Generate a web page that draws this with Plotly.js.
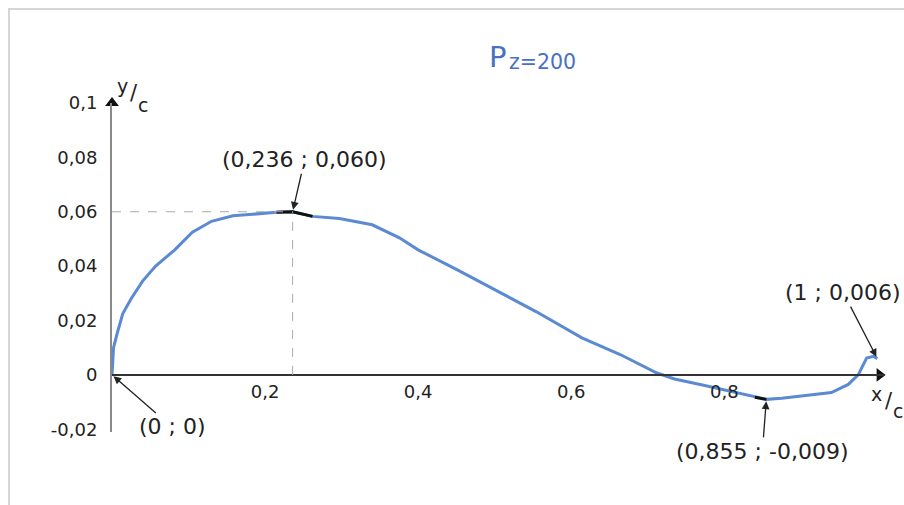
<!DOCTYPE html>
<html>
<head>
<meta charset="utf-8">
<script src="https://cdn.plot.ly/plotly-3.0.1.min.js"></script>
<style>
  html, body { margin: 0; padding: 0; background: #fff; }
  #wrap { position: relative; width: 904px; height: 505px; overflow: hidden; }
  #chart { position: absolute; left: 0; top: 0; width: 904px; height: 505px; }
  #frame { position: absolute; left: 8px; top: 8px; width: 904px; height: 505px;
           border-top: 2px solid #d6d6d6; border-left: 2px solid #d6d6d6; pointer-events: none; }
</style>
</head>
<body>
<div id="wrap">
  <div id="chart"></div>
  <div id="frame"></div>
</div>
<script>
// Mean line profile, y/c against x/c
const xc = [0, 0.002, 0.007, 0.014, 0.025, 0.040, 0.057, 0.082, 0.105, 0.130, 0.158, 0.189, 0.215, 0.236,
            0.262, 0.297, 0.340, 0.375, 0.400, 0.450, 0.502, 0.554, 0.614, 0.664, 0.712, 0.735, 0.770,
            0.815, 0.840, 0.855, 0.875, 0.906, 0.940, 0.962, 0.975, 0.986, 0.995, 1.0];
const yc = [0, 0.010, 0.0155, 0.0225, 0.028, 0.0345, 0.040, 0.046, 0.0525, 0.0565, 0.0585, 0.0593, 0.0598, 0.060,
            0.0583, 0.0575, 0.0552, 0.0505, 0.046, 0.0388, 0.0312, 0.0233, 0.0136, 0.0075, 0.0007, -0.0015, -0.0036,
            -0.0065, -0.0082, -0.009, -0.0086, -0.0075, -0.0065, -0.0035, 0.0, 0.0062, 0.0068, 0.006];

// Labelled points
const markX = [0, 0.236, 0.855, 1];
const markY = [0, 0.060, -0.009, 0.006];
const markText = ['(0 ; 0)', '(0,236 ; 0,060)', '(0,855 ; -0,009)', '(1 ; 0,006)'];
const markOffX = [60, 12, -4, -34];
const markOffY = [52, -52, 52, -66];

// Axis ticks
const xTickVals = [0.2, 0.4, 0.6, 0.8];
const xTickText = ['0,2', '0,4', '0,6', '0,8'];
const yTickVals = [-0.02, 0, 0.02, 0.04, 0.06, 0.08, 0.1];
const yTickText = ['-0,02', '0', '0,02', '0,04', '0,06', '0,08', '0,1'];

// heading: a large P followed by a lowered index
const titleParts = ['P', 'z=200'];
// axis names written as a raised letter, a slash and a lowered letter
const yNameParts = ['y', '/', 'c'];
const xNameParts = ['x', '/', 'c'];

const xRange = [0, 1.01];
const yRange = [-0.021, 0.1];
const FONT = 'DejaVu Sans, Arial, sans-serif';

// highlighted short pieces of the curve around the peak and the trough
function piece(cx, half) {
  const px = [], py = [];
  xc.forEach((v, i) => { if (Math.abs(v - cx) <= half) { px.push(v); py.push(yc[i]); } });
  return {x: px, y: py};
}
const peakPiece = piece(markX[1], 0.03);
const troughPiece = piece(markX[2], 0.016);

const traces = [
  {x: xc, y: yc, type: 'scatter', mode: 'lines', line: {color: '#5b8ad2', width: 3}, hoverinfo: 'none', cliponaxis: false},
  {x: peakPiece.x, y: peakPiece.y, type: 'scatter', mode: 'lines', line: {color: '#111', width: 3}, hoverinfo: 'none'},
  {x: troughPiece.x, y: troughPiece.y, type: 'scatter', mode: 'lines', line: {color: '#111', width: 3}, hoverinfo: 'none'},
  // arrowheads at the ends of both axes
  {x: [0, xRange[1] - 0.007], y: [yRange[1], 0], type: 'scatter', mode: 'markers', cliponaxis: false,
   marker: {symbol: ['triangle-up', 'triangle-right'], size: 12, color: '#111'}, hoverinfo: 'none'}
];

const annotations = [];
markX.forEach((mx, i) => {
  annotations.push({
    x: mx, y: markY[i], xref: 'x', yref: 'y', text: markText[i],
    showarrow: true, ax: markOffX[i], ay: markOffY[i], arrowhead: 2, arrowsize: 1.2,
    arrowwidth: 1.3, arrowcolor: '#222', standoff: 2,
    font: {family: FONT, size: 22, color: '#222'}
  });
});

// pieces of text placed one after another in paper coordinates: [x, y, anchor, size]
function addPieces(parts, pos, color) {
  parts.forEach((t, i) => annotations.push({
    x: pos[i][0], y: pos[i][1], xref: 'paper', yref: 'paper', xanchor: pos[i][2], yanchor: 'middle',
    text: t, showarrow: false, borderpad: 0, font: {family: FONT, size: pos[i][3], color: color}
  }));
}
addPieces(titleParts, [[0.5125, 1.141, 'right', 29], [0.5128, 1.124, 'left', 20.5]], '#4a70c2');
addPieces(yNameParts, [[0.0215, 1.052, 'right', 19], [0.0222, 1.030, 'left', 21], [0.0325, 0.994, 'left', 19]], '#222');
addPieces(xNameParts, [[0.9975, 0.117, 'right', 19], [0.9982, 0.093, 'left', 21], [1.0085, 0.063, 'left', 19]], '#222');

const layout = {
  width: 904, height: 505,
  margin: {l: 112, r: 19, t: 103, b: 73},
  paper_bgcolor: 'rgba(0,0,0,0)', plot_bgcolor: 'rgba(0,0,0,0)',
  showlegend: false,
  separators: ', ',
  xaxis: {
    range: xRange, anchor: 'free', position: (0 - yRange[0]) / (yRange[1] - yRange[0]),
    showgrid: false, zeroline: false, showline: true, linecolor: '#333', linewidth: 2,
    tickvals: xTickVals, ticktext: xTickText, ticks: '', ticklabelstandoff: 0,
    tickfont: {family: FONT, size: 18, color: '#222'}, fixedrange: true
  },
  yaxis: {
    range: yRange, showgrid: false, zeroline: false, showline: true, linecolor: '#8a8a8a', linewidth: 2,
    tickvals: yTickVals, ticktext: yTickText, ticks: '', ticklabelstandoff: 9,
    tickfont: {family: FONT, size: 18, color: '#222'}, fixedrange: true
  },
  shapes: [
    {type: 'line', xref: 'x', yref: 'y', x0: 0, x1: markX[1], y0: markY[1], y1: markY[1],
     line: {color: '#aaa', width: 1, dash: 'dash'}},
    {type: 'line', xref: 'x', yref: 'y', x0: markX[1], x1: markX[1], y0: 0, y1: markY[1],
     line: {color: '#aaa', width: 1, dash: 'dash'}}
  ],
  annotations: annotations
};

Plotly.newPlot('chart', traces, layout, {staticPlot: true, displayModeBar: false});
</script>
</body>
</html>
